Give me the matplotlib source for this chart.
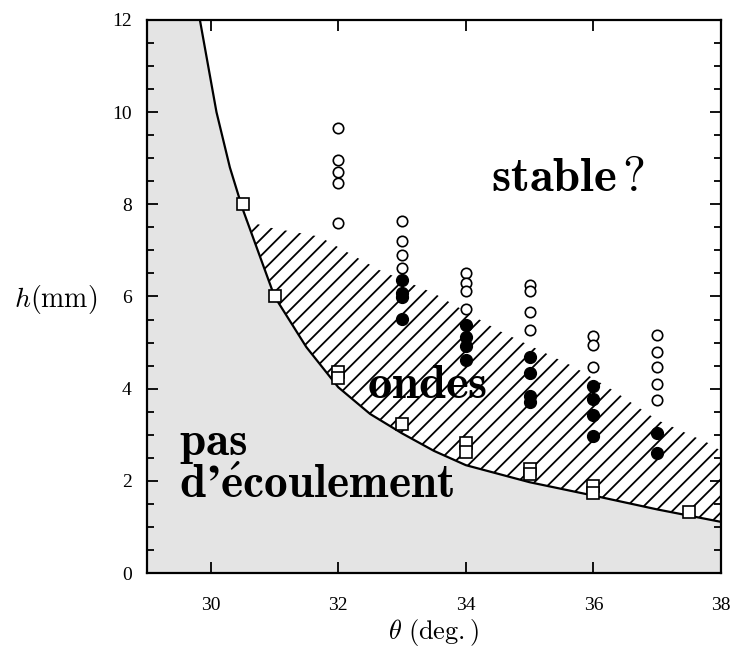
"""Flow regime diagram h vs theta: no flow / waves / stable."""
import matplotlib
matplotlib.use("Agg")
import matplotlib.pyplot as plt
from matplotlib.patches import Polygon
from matplotlib.ticker import MultipleLocator

plt.rcParams["mathtext.fontset"] = "cm"
plt.rcParams["font.family"] = ["Liberation Serif", "DejaVu Serif"]
plt.rcParams["hatch.linewidth"] = 1.3

# --- data ------------------------------------------------------------------
# limit curve (no-flow boundary)
curve_theta = [29.83, 30.09, 30.3, 30.5, 31.0, 31.5, 32.0, 32.5, 33.0, 33.5,
               34.0, 35.0, 36.0, 37.0, 38.0]
curve_h = [12.0, 10.0, 8.8, 7.9, 6.0, 4.9, 4.03, 3.45, 3.03, 2.65,
           2.34, 1.97, 1.68, 1.38, 1.11]

# upper edge of the hatched "ondes" band
band_theta = [30.55, 30.9, 31.7, 32.65, 33.5, 34.5, 35.7, 36.3, 37.0, 37.8, 38.0]
band_h = [7.65, 7.5, 7.3, 6.57, 6.07, 5.27, 4.47, 3.97, 3.32, 2.82, 2.65]

# open squares: flow onset
sq_theta = [30.5, 31, 32, 32, 33, 34, 34, 35, 35, 36, 36, 37.5]
sq_h = [8.0, 6.0, 4.36, 4.23, 3.23, 2.83, 2.63, 2.25, 2.15, 1.89, 1.74, 1.32]

# open circles: stable flow
open_theta = [32, 32, 32, 32, 32,
              33, 33, 33, 33,
              34, 34, 34, 34,
              35, 35, 35, 35,
              36, 36, 36,
              37, 37, 37, 37, 37]
open_h = [9.65, 8.95, 8.7, 8.47, 7.6,
          7.63, 7.2, 6.9, 6.62,
          6.5, 6.3, 6.12, 5.73,
          6.25, 6.12, 5.66, 5.27,
          5.14, 4.94, 4.48,
          5.17, 4.8, 4.47, 4.09, 3.75]

# filled circles: waves
fill_theta = [33, 33, 33, 33,
              34, 34, 34, 34,
              35, 35, 35, 35,
              36, 36, 36, 36,
              37, 37]
fill_h = [6.36, 6.08, 5.98, 5.52,
          5.38, 5.11, 4.92, 4.62,
          4.68, 4.35, 3.85, 3.72,
          4.06, 3.78, 3.43, 2.98,
          3.04, 2.6]

fig = plt.figure(figsize=(7.33, 6.53), dpi=100)
ax = fig.add_axes([0.2005, 0.1225, 0.783, 0.847])
ax.set_xlim(29, 38)
ax.set_ylim(0, 12)

# grey no-flow region
grey_x = [29, 29] + curve_theta + [38]
grey_y = [0, 12] + curve_h + [0]
ax.fill(grey_x, grey_y, color="#e4e4e4", lw=0, zorder=1)

# hatched wave band between curve and band edge
low = [(t, h) for t, h in zip(curve_theta, curve_h) if t >= band_theta[0]]
band_pts = [(band_theta[0], 7.72)] + low + list(zip(band_theta, band_h))[::-1]
ax.add_patch(Polygon(band_pts, closed=True, facecolor="none",
                     edgecolor="black", lw=0, hatch="//", zorder=2))

ax.plot(curve_theta, curve_h, color="black", lw=1.6, zorder=3)

ax.plot(sq_theta, sq_h, "s", ms=8, mfc="white", mec="black", mew=1.2, zorder=4)
ax.plot(open_theta, open_h, "o", ms=7.5, mfc="white", mec="black", mew=1.2,
        zorder=4)
ax.plot(fill_theta, fill_h, "o", ms=8.5, mfc="black", mec="black", zorder=4)

# region labels
ax.text(35.6, 8.55, r"$\mathbf{stable\,?}$", fontsize=35, ha="center",
        va="center", zorder=5)
ax.text(33.4, 4.05, r"$\mathbf{ondes}$", fontsize=35, ha="center",
        va="center", zorder=5)
ax.text(29.5, 2.55, r"$\mathbf{pas}$", fontsize=34, ha="left",
        va="baseline", zorder=5)
ax.text(29.5, 1.63, r"$\mathbf{d’\acute{e}coulement}$", fontsize=34,
        ha="left", va="baseline", zorder=5)

# axes styling
ax.xaxis.set_major_locator(MultipleLocator(2))
ax.yaxis.set_major_locator(MultipleLocator(2))
ax.yaxis.set_minor_locator(MultipleLocator(0.5))
ax.tick_params(which="both", direction="in", top=True, right=True,
               labelsize=14, width=1.3)
ax.tick_params(axis="x", which="major", length=8, pad=17)
ax.tick_params(axis="y", which="major", length=8, pad=11)
ax.tick_params(which="minor", length=5)
for s in ax.spines.values():
    s.set_linewidth(1.6)
    s.set_zorder(6)

ax.set_xlabel(r"$\theta\ \mathrm{(deg.)}$", fontsize=19, va="center")
ax.xaxis.set_label_coords(0.5, -0.107)
ax.set_ylabel(r"$h\mathrm{(mm)}$", fontsize=20, rotation=0, ha="right",
              va="center")
ax.yaxis.set_label_coords(-0.087, 0.494)

fig.savefig("out.png", dpi=100)
